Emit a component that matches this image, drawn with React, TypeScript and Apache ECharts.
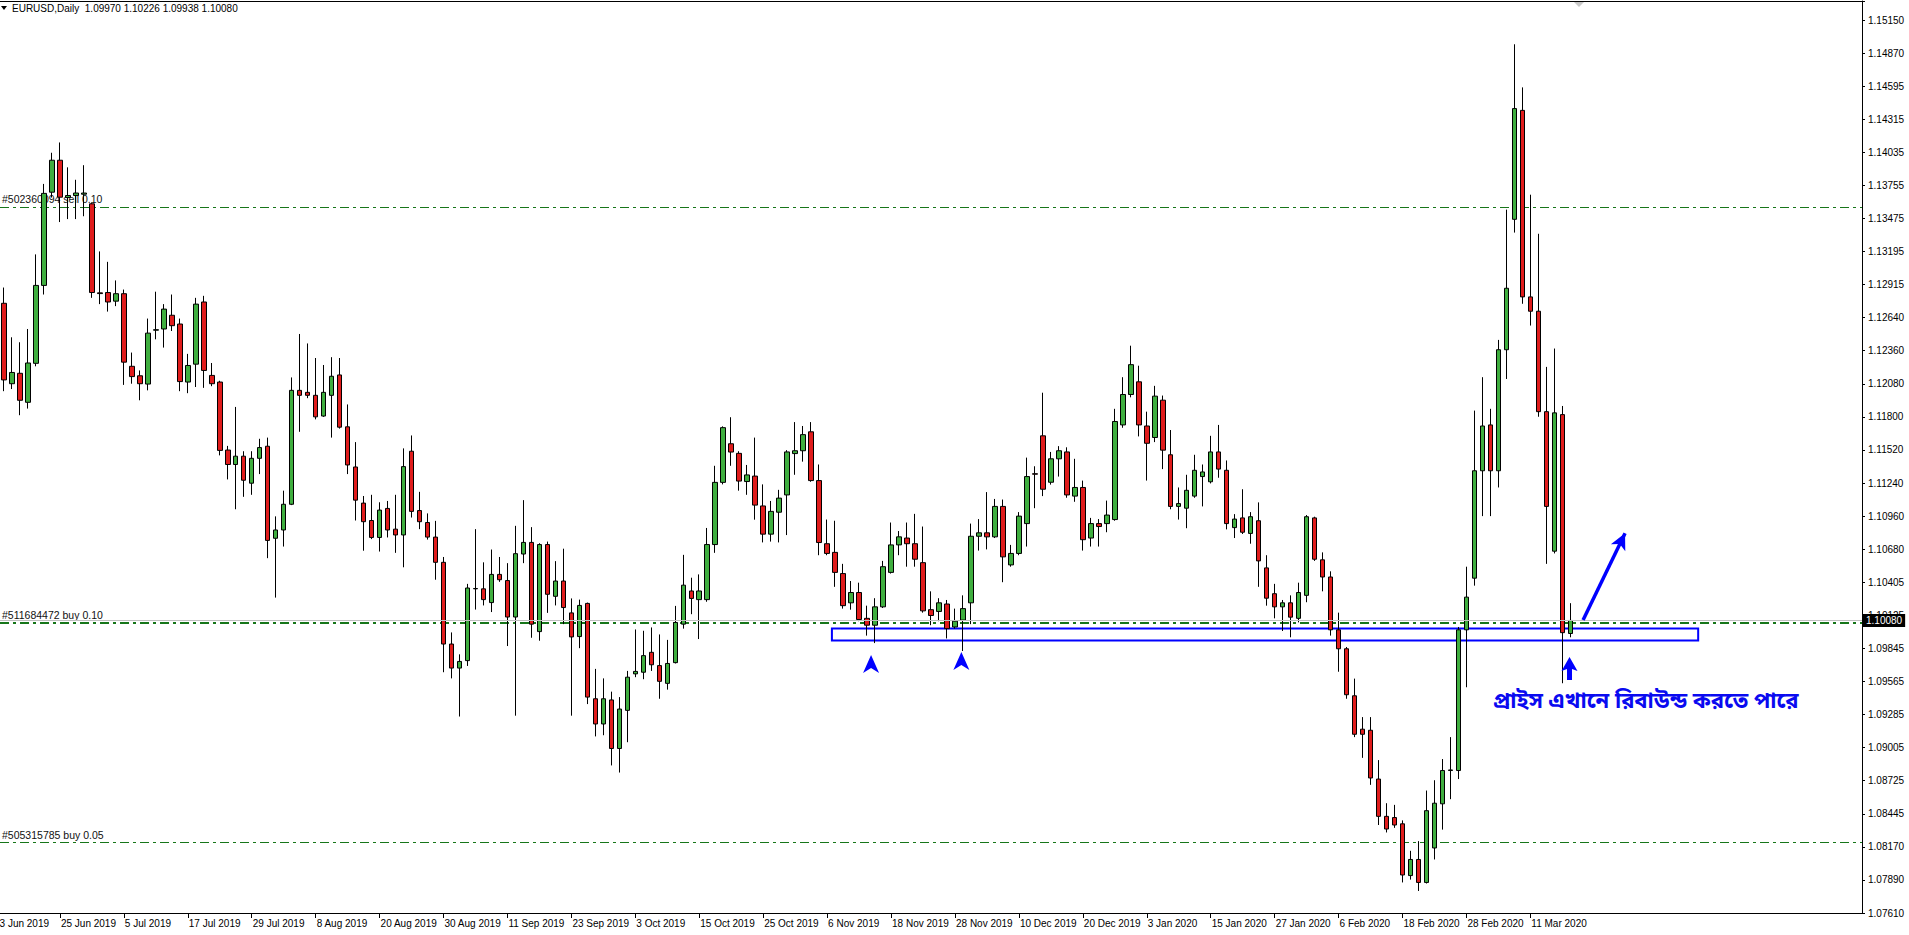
import React, { useEffect, useRef } from "react";
import * as echarts from "echarts";

// ---------- data ----------
const monthDays: [string, number[]][] = [
  ["Jun 2019", [14, 17, 18, 19, 20, 21, 24, 25, 26, 27, 28]],
  ["Jul 2019", [1, 2, 3, 4, 5, 8, 9, 10, 11, 12, 15, 16, 17, 18, 19, 22, 23, 24, 25, 26, 29, 30, 31]],
  ["Aug 2019", [1, 2, 5, 6, 7, 8, 9, 12, 13, 14, 15, 16, 19, 20, 21, 22, 23, 26, 27, 28, 29, 30]],
  ["Sep 2019", [2, 3, 4, 5, 6, 9, 10, 11, 12, 13, 16, 17, 18, 19, 20, 23, 24, 25, 26, 27, 30]],
  ["Oct 2019", [1, 2, 3, 4, 7, 8, 9, 10, 11, 14, 15, 16, 17, 18, 21, 22, 23, 24, 25, 28, 29, 30, 31]],
  ["Nov 2019", [1, 4, 5, 6, 7, 8, 11, 12, 13, 14, 15, 18, 19, 20, 21, 22, 25, 26, 27, 28, 29]],
  ["Dec 2019", [2, 3, 4, 5, 6, 9, 10, 11, 12, 13, 16, 17, 18, 19, 20, 23, 24, 26, 27, 30, 31]],
  ["Jan 2020", [2, 3, 6, 7, 8, 9, 10, 13, 14, 15, 16, 17, 20, 21, 22, 23, 24, 27, 28, 29, 30, 31]],
  ["Feb 2020", [3, 4, 5, 6, 7, 10, 11, 12, 13, 14, 17, 18, 19, 20, 21, 24, 25, 26, 27, 28]],
  ["Mar 2020", [2, 3, 4, 5, 6, 9, 10, 11, 12, 13, 16, 17, 18]],
];
const dates: string[] = monthDays.flatMap(([m, ds]) => ds.map((d) => `${d} ${m}`));

const opens = [
  1.12758, 1.12079, 1.12167, 1.11922, 1.12251, 1.12909, 1.13696, 1.13966, 1.13651, 1.13668,
  1.13679, 1.13598, 1.12846, 1.12849, 1.12776, 1.12839, 1.12226, 1.12146, 1.12076, 1.12531,
  1.12541, 1.12657, 1.12583, 1.12093, 1.12244, 1.12769, 1.12149, 1.12093, 1.11519, 1.11397,
  1.11467, 1.11239, 1.11449, 1.11551, 1.10774, 1.10844, 1.11061, 1.12023, 1.12006, 1.11981,
  1.11806, 1.11981, 1.12153, 1.11715, 1.11376, 1.11071, 1.10924, 1.10781, 1.11026, 1.10851,
  1.10802, 1.11509, 1.11008, 1.10907, 1.10784, 1.10571, 1.09881, 1.09678, 1.09741, 1.10347,
  1.10347, 1.10231, 1.10469, 1.10417, 1.10109, 1.10641, 1.10739, 1.09986, 1.10721, 1.10284,
  1.10413, 1.10144, 1.09944, 1.10224, 1.09419, 1.09206, 1.09409, 1.08999, 1.09321, 1.09629,
  1.09643, 1.09811, 1.09699, 1.09549, 1.09724, 1.10049, 1.10329, 1.10256, 1.10256, 1.10721,
  1.11246, 1.11572, 1.11491, 1.11253, 1.11299, 1.11047, 1.10809, 1.10994, 1.11140, 1.11489,
  1.11513, 1.11673, 1.11261, 1.10728, 1.10655, 1.10476, 1.10229, 1.10316, 1.10098, 1.10040,
  1.10195, 1.10486, 1.10718, 1.10776, 1.10728, 1.10568, 1.10171, 1.10156, 1.10219, 1.10025,
  1.10083, 1.10229, 1.10791, 1.10820, 1.10786, 1.11043, 1.10549, 1.10646, 1.10898, 1.11319,
  1.11639, 1.11247, 1.11445, 1.11503, 1.11130, 1.11203, 1.10776, 1.10898, 1.10898, 1.10932,
  1.11731, 1.11988, 1.12095, 1.11722, 1.11625, 1.11940, 1.11479, 1.11043, 1.11028, 1.11130,
  1.11295, 1.11251, 1.11503, 1.11348, 1.10864, 1.10946, 1.10815, 1.10922, 1.10524, 1.10306,
  1.10195, 1.10229, 1.10098, 1.10292, 1.10946, 1.10592, 1.10447, 1.10001, 1.09841, 1.09444,
  1.09162, 1.09153, 1.08741, 1.08426, 1.08416, 1.08363, 1.07926, 1.08062, 1.07868, 1.08159,
  1.08532, 1.08813, 1.08813, 1.10001, 1.10437, 1.11344, 1.11731, 1.11344, 1.12366, 1.13467,
  1.14387, 1.12812, 1.12691, 1.11843, 1.10665, 1.11818, 1.09970,
];
const highs = [
  1.12891, 1.12471, 1.12429, 1.12541, 1.13171, 1.13766, 1.14029, 1.14116, 1.13906, 1.13801,
  1.13924, 1.13609, 1.13196, 1.13108, 1.12951, 1.12874, 1.12342, 1.12191, 1.12629, 1.12856,
  1.12751, 1.12832, 1.12629, 1.12331, 1.12804, 1.12821, 1.12254, 1.12104, 1.11554, 1.11883,
  1.11509, 1.11509, 1.11614, 1.11624, 1.10959, 1.11176, 1.12132, 1.12499, 1.12419, 1.12296,
  1.12237, 1.12303, 1.12296, 1.11904, 1.11586, 1.11131, 1.11141, 1.11078, 1.11089, 1.11141,
  1.11533, 1.11642, 1.11166, 1.10984, 1.10921, 1.10616, 1.09979, 1.09794, 1.10389, 1.10851,
  1.10571, 1.10679, 1.10616, 1.10564, 1.10879, 1.11096, 1.10868, 1.10732, 1.10746, 1.10581,
  1.10686, 1.10266, 1.10256, 1.10231, 1.09671, 1.09591, 1.09479, 1.09433, 1.09654, 1.10004,
  1.09993, 1.10021, 1.09962, 1.09916, 1.10203, 1.10634, 1.10441, 1.10469, 1.10861, 1.11386,
  1.11719, 1.11796, 1.11509, 1.11393, 1.11624, 1.11229, 1.11089, 1.11183, 1.11518, 1.11755,
  1.11722, 1.11755, 1.11397, 1.10932, 1.10922, 1.10558, 1.10413, 1.10399, 1.10205, 1.10268,
  1.10583, 1.10907, 1.10835, 1.10907, 1.10980, 1.10873, 1.10326, 1.10268, 1.10253, 1.10180,
  1.10292, 1.10898, 1.10936, 1.11164, 1.11106, 1.11101, 1.10718, 1.10995, 1.11455, 1.11382,
  1.12003, 1.11503, 1.11552, 1.11542, 1.11445, 1.11261, 1.10946, 1.10936, 1.11092, 1.11867,
  1.12134, 1.12400, 1.12231, 1.11843, 1.12061, 1.11979, 1.11688, 1.11203, 1.11310, 1.11479,
  1.11397, 1.11639, 1.11731, 1.11431, 1.10978, 1.11188, 1.10995, 1.11077, 1.10631, 1.10389,
  1.10253, 1.10292, 1.10399, 1.10970, 1.10956, 1.10655, 1.10495, 1.10146, 1.09856, 1.09589,
  1.09264, 1.09264, 1.08901, 1.08537, 1.08523, 1.08392, 1.08135, 1.08217, 1.08644, 1.08731,
  1.08910, 1.09095, 1.10025, 1.10534, 1.11852, 1.12134, 1.11867, 1.12449, 1.13549, 1.14945,
  1.14581, 1.13675, 1.13345, 1.12221, 1.12376, 1.11891, 1.10226,
];
const lows = [
  1.12016, 1.12034, 1.11813, 1.11869, 1.12226, 1.12832, 1.13651, 1.13444, 1.13469, 1.13469,
  1.13493, 1.12804, 1.12751, 1.12688, 1.12734, 1.12069, 1.12079, 1.11939, 1.12023, 1.12454,
  1.12384, 1.12524, 1.12016, 1.11999, 1.12051, 1.12044, 1.12058, 1.11474, 1.11271, 1.11019,
  1.11124, 1.11141, 1.11316, 1.10606, 1.10273, 1.10704, 1.11054, 1.11673, 1.11957, 1.11778,
  1.11799, 1.11624, 1.11700, 1.11316, 1.10924, 1.10669, 1.10767, 1.10662, 1.10781, 1.10651,
  1.10529, 1.10949, 1.10851, 1.10763, 1.10424, 1.09643, 1.09591, 1.09269, 1.09696, 1.10172,
  1.10207, 1.10151, 1.10406, 1.09864, 1.09276, 1.10564, 1.09934, 1.09909, 1.10144, 1.10207,
  1.10049, 1.09276, 1.09846, 1.09374, 1.09101, 1.09111, 1.08856, 1.08796, 1.09052, 1.09601,
  1.09584, 1.09654, 1.09419, 1.09496, 1.09717, 1.10011, 1.10133, 1.09923, 1.10238, 1.10651,
  1.11229, 1.11386, 1.11176, 1.11141, 1.10931, 1.10739, 1.10746, 1.10739, 1.10801, 1.11310,
  1.11421, 1.11251, 1.10631, 1.10631, 1.10364, 1.10180, 1.10171, 1.10074, 1.09952, 1.09889,
  1.10185, 1.10476, 1.10631, 1.10534, 1.10534, 1.10146, 1.10040, 1.10074, 1.09928, 1.10011,
  1.09822, 1.10049, 1.10670, 1.10680, 1.10776, 1.10403, 1.10534, 1.10631, 1.10704, 1.11028,
  1.11130, 1.11227, 1.11295, 1.11116, 1.11082, 1.10670, 1.10704, 1.10704, 1.10825, 1.10922,
  1.11707, 1.11964, 1.11634, 1.11261, 1.11586, 1.11358, 1.11019, 1.10932, 1.10859, 1.11116,
  1.11043, 1.11237, 1.11285, 1.10849, 1.10776, 1.10810, 1.10728, 1.10364, 1.10205, 1.10098,
  1.09991, 1.09938, 1.10064, 1.10234, 1.10583, 1.10326, 1.09952, 1.09647, 1.09419, 1.09095,
  1.08920, 1.08692, 1.08353, 1.08290, 1.08329, 1.07868, 1.07892, 1.07796, 1.07859, 1.08062,
  1.08314, 1.08571, 1.08741, 1.09516, 1.10374, 1.10961, 1.10961, 1.11203, 1.12119, 1.13355,
  1.12754, 1.12570, 1.11800, 1.10558, 1.10646, 1.09550, 1.09938,
];
const closes = [
  1.12111, 1.12174, 1.11939, 1.12254, 1.12909, 1.13686, 1.13966, 1.13654, 1.13668, 1.13689,
  1.13689, 1.12849, 1.12840, 1.12769, 1.12839, 1.12261, 1.12139, 1.12079, 1.12506, 1.12535,
  1.12709, 1.12569, 1.12097, 1.12233, 1.12751, 1.12191, 1.12079, 1.11516, 1.11397, 1.11467,
  1.11264, 1.11449, 1.11540, 1.10756, 1.10844, 1.11061, 1.12023, 1.11981, 1.11981, 1.11799,
  1.12006, 1.12142, 1.11712, 1.11393, 1.11096, 1.10914, 1.10781, 1.11012, 1.10844, 1.10802,
  1.11379, 1.11001, 1.10914, 1.10784, 1.10571, 1.09881, 1.09678, 1.09734, 1.10354, 1.10350,
  1.10256, 1.10469, 1.10424, 1.10109, 1.10644, 1.10739, 1.10049, 1.10721, 1.10301, 1.10413,
  1.10189, 1.09941, 1.10207, 1.09433, 1.09206, 1.09419, 1.08999, 1.09332, 1.09601, 1.09650,
  1.09783, 1.09706, 1.09566, 1.09717, 1.10063, 1.10378, 1.10266, 1.10329, 1.10721, 1.11246,
  1.11708, 1.11502, 1.11257, 1.11309, 1.11054, 1.10809, 1.11001, 1.11113, 1.11503, 1.11513,
  1.11649, 1.11261, 1.10738, 1.10646, 1.10486, 1.10205, 1.10316, 1.10088, 1.10040, 1.10195,
  1.10534, 1.10718, 1.10786, 1.10728, 1.10597, 1.10161, 1.10122, 1.10229, 1.10011, 1.10074,
  1.10180, 1.10791, 1.10820, 1.10786, 1.11043, 1.10617, 1.10646, 1.10961, 1.11295, 1.11315,
  1.11188, 1.11445, 1.11513, 1.11140, 1.11203, 1.10762, 1.10898, 1.10873, 1.10970, 1.11760,
  1.11988, 1.12240, 1.11731, 1.11576, 1.11974, 1.11518, 1.11043, 1.11067, 1.11179, 1.11348,
  1.11334, 1.11503, 1.11358, 1.10898, 1.10936, 1.10825, 1.10956, 1.10583, 1.10268, 1.10195,
  1.10229, 1.10108, 1.10316, 1.10956, 1.10597, 1.10447, 1.10001, 1.09841, 1.09453, 1.09119,
  1.09119, 1.08750, 1.08426, 1.08319, 1.08353, 1.07931, 1.08062, 1.07868, 1.08474, 1.08537,
  1.08813, 1.08818, 1.10001, 1.10277, 1.11344, 1.11722, 1.11344, 1.12366, 1.12885, 1.14402,
  1.12812, 1.12691, 1.11843, 1.11043, 1.11833, 1.09977, 1.10080,
];

const yTickLabels = [
  "1.07610", "1.07890", "1.08170", "1.08445", "1.08725", "1.09005", "1.09285",
  "1.09565", "1.09845", "1.10125", "1.10405", "1.10680", "1.10960", "1.11240",
  "1.11520", "1.11800", "1.12080", "1.12360", "1.12640", "1.12915", "1.13195",
  "1.13475", "1.13755", "1.14035", "1.14315", "1.14595", "1.14870", "1.15150",
];

const orderLabels = ["#502360094 sell 0.10", "#511684472 buy 0.10", "#505315785 buy 0.05"];
const orderPrices = [1.13573, 1.10062, 1.08208];
const bidPrice = 1.1008;
const titleText = "EURUSD,Daily  1.09970 1.10226 1.09938 1.10080";
const noteText = "প্রাইস এখানে রিবাউন্ড করতে পারে";

// annotation anchors: [bar position, price]
const notchArrows = [
  [108.5, 1.09713],
  [119.8, 1.09738],
];
const stemArrow = [195.9, 1.09675];
const zoneBox = [
  [103.6, 1.10012],
  [212.0, 1.09911],
];
const trendArrow = [
  [197.6, 1.10084],
  [202.85, 1.10816],
];

// ---------- chart ----------
const FONT = 'Tahoma, "Liberation Sans", Arial, sans-serif';
const TOTAL = 233;
const N = dates.length;
const cats = [...dates, ...Array.from({ length: TOTAL - N }, (_, k) => `pad${k}`)];
const candleData = opens.map((o, i) => [o, closes[i], lows[i], highs[i]]);
const labelInterval = (index: number) => index < N && index % 8 === 7;
const GREEN = "#17761a";
const BLUE = "#0000ff";
const X0 = -0.5;
const X1 = TOTAL - 0.5;
const hiddenPoint = [{ value: [-10, 1.1], symbolSize: 0 }];

function buildOption(): any {
  return {
    animation: false,
    backgroundColor: "#ffffff",
    textStyle: { fontFamily: FONT },
    grid: { left: 0, right: 47, top: 1, bottom: 22, containLabel: false },
    xAxis: [
      {
        type: "category",
        data: cats,
        boundaryGap: true,
        axisLine: { show: true, lineStyle: { color: "#000", width: 1 } },
        axisTick: {
          show: true,
          alignWithLabel: true,
          interval: labelInterval,
          length: 5,
          lineStyle: { color: "#000" },
        },
        axisLabel: {
          interval: labelInterval,
          align: "left",
          margin: 5,
          padding: [0, 0, 0, 1],
          color: "#000",
          fontSize: 10,
          fontFamily: FONT,
        },
        splitLine: { show: false },
      },
      { type: "value", min: X0, max: X1, show: false },
    ],
    yAxis: [
      { type: "value", min: 1.0761, max: 1.153104, show: false, splitLine: { show: false } },
      {
        type: "value",
        min: 0,
        max: 27.5745,
        interval: 1,
        position: "right",
        axisLine: { show: true, lineStyle: { color: "#000", width: 1 } },
        axisTick: { show: true, length: 3, lineStyle: { color: "#000" } },
        axisLabel: {
          margin: 6,
          color: "#000",
          fontSize: 10,
          fontFamily: FONT,
          formatter: (v: number) => {
            const k = Math.round(v);
            return Math.abs(v - k) < 1e-6 && yTickLabels[k] ? yTickLabels[k] : "";
          },
        },
        splitLine: { show: false },
      },
    ],
    series: [
      {
        name: "orders",
        type: "scatter",
        xAxisIndex: 1,
        yAxisIndex: 0,
        data: hiddenPoint,
        z: 1,
        silent: true,
        markLine: {
          z: 1,
          silent: true,
          symbol: "none",
          animation: false,
          label: {
            show: true,
            position: "insideStartTop",
            distance: 2,
            color: "#111",
            fontSize: 10.5,
            fontFamily: FONT,
          },
          data: orderPrices.map((p, i) => [
            {
              coord: [X0, p],
              label: { formatter: orderLabels[i] },
              lineStyle: { color: GREEN, width: i === 1 ? 2 : 1, type: [9, 4, 3, 4] },
            },
            { coord: [X1, p] },
          ]),
        },
      },
      {
        name: "bid",
        type: "scatter",
        xAxisIndex: 1,
        yAxisIndex: 0,
        data: hiddenPoint,
        z: 3,
        silent: true,
        markLine: {
          z: 3,
          silent: true,
          symbol: "none",
          animation: false,
          data: [
            [
              {
                coord: [X0, bidPrice],
                lineStyle: { color: "#c0c0c0", width: 1, type: "solid" },
                label: {
                  show: true,
                  position: "end",
                  distance: 1,
                  formatter: bidPrice.toFixed(5),
                  color: "#fff",
                  backgroundColor: "#000",
                  padding: [2, 3, 1, 3],
                  fontSize: 10,
                  fontFamily: FONT,
                },
              },
              { coord: [X1, bidPrice] },
            ],
          ],
        },
      },
      {
        name: "EURUSD",
        type: "candlestick",
        xAxisIndex: 0,
        yAxisIndex: 0,
        z: 2,
        barWidth: 5,
        data: candleData,
        itemStyle: {
          color: "#3fae3f",
          color0: "#e01c1c",
          borderColor: "#000",
          borderColor0: "#000",
          borderWidth: 1,
        },
      },
      {
        name: "annotations",
        type: "scatter",
        xAxisIndex: 1,
        yAxisIndex: 0,
        z: 4,
        silent: true,
        data: [
          ...notchArrows.map((p) => ({
            value: p,
            symbol: "path://M8,0L16,18L8,13L0,18Z",
            symbolSize: [16, 18],
          })),
          {
            value: stemArrow,
            symbol: "path://M8,0L16,14L10.5,12L10.5,23L5.5,23L5.5,12L0,14Z",
            symbolSize: [16, 23],
          },
        ],
        itemStyle: { color: BLUE, opacity: 1 },
        markArea: {
          z: 1,
          silent: true,
          itemStyle: { color: "rgba(0,0,0,0)", borderColor: BLUE, borderWidth: 2 },
          label: { show: false },
          data: [[{ coord: zoneBox[0] }, { coord: zoneBox[1] }]],
        },
        markLine: {
          z: 4,
          silent: true,
          symbol: ["none", "arrow"],
          symbolSize: [12, 16],
          label: { show: false },
          lineStyle: { color: BLUE, width: 3.5, type: "solid" },
          data: [[{ coord: trendArrow[0] }, { coord: trendArrow[1] }]],
        },
      },
    ],
    graphic: [
      {
        type: "line",
        shape: { x1: 0, y1: 1.5, x2: 1862, y2: 1.5 },
        style: { stroke: "#000", lineWidth: 1 },
        silent: true,
      },
      {
        type: "polygon",
        shape: { points: [[1, 6], [7, 6], [4, 10]] },
        style: { fill: "#000" },
        silent: true,
      },
      {
        type: "polygon",
        shape: { points: [[1574, 2], [1584, 2], [1579, 7]] },
        style: { fill: "#c8c8c8" },
        silent: true,
      },
      {
        type: "text",
        x: 12,
        y: 3,
        style: { text: titleText, fill: "#000", font: `10px ${FONT}` },
        silent: true,
      },
      {
        type: "text",
        x: -6,
        y: 918,
        style: { text: "13 Jun 2019", fill: "#000", font: `10px ${FONT}` },
        silent: true,
      },
      {
        type: "text",
        x: 1493,
        y: 691,
        z: 10,
        style: {
          text: noteText,
          fill: "#0a0af0",
          font: 'bold 22px "Noto Sans Bengali", "Noto Sans", sans-serif',
        },
        silent: true,
      },
    ],
  };
}

export default function App() {
  const ref = useRef<HTMLDivElement>(null);
  useEffect(() => {
    if (!ref.current) return;
    const chart = echarts.init(ref.current, undefined, { renderer: "svg" });
    chart.setOption(buildOption());
    return () => chart.dispose();
  }, []);
  return (
    <div
      ref={ref}
      style={{ position: "fixed", left: 0, top: 0, width: 1909, height: 935, background: "#fff" }}
    />
  );
}
